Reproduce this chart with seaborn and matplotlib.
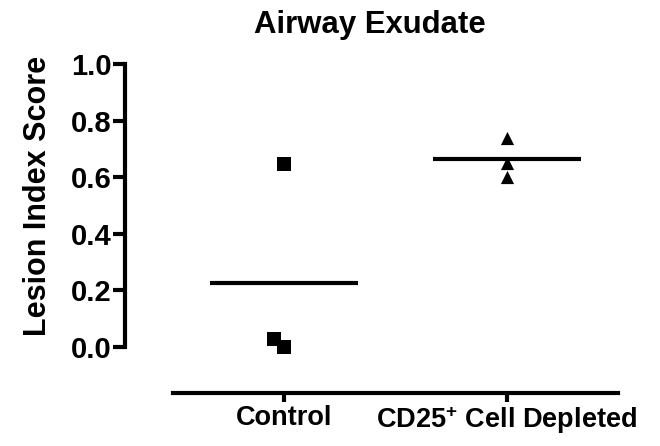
import matplotlib
matplotlib.use("Agg")
import matplotlib.pyplot as plt
import seaborn as sns
import numpy as np
import pandas as pd

# Data
categories = ["Control", "CD25$^{+}$ Cell Depleted"]
control_scores = [0.645, 0.0, 0.03]
cd25_scores = [0.74, 0.65, 0.60]
y_ticks = [0.0, 0.2, 0.4, 0.6, 0.8, 1.0]
title = "Airway Exudate"
y_label = "Lesion Index Score"

df = pd.DataFrame({
    "group": [categories[0]] * len(control_scores) + [categories[1]] * len(cd25_scores),
    "score": control_scores + cd25_scores,
})

sns.set_style("ticks")
plt.rcParams["font.family"] = ["Liberation Sans", "DejaVu Sans"]
plt.rcParams["font.weight"] = "bold"
plt.rcParams["mathtext.default"] = "regular"
for key in ["text.color", "axes.labelcolor", "xtick.color", "ytick.color", "axes.edgecolor"]:
    plt.rcParams[key] = "black"

fig = plt.figure(figsize=(6.6, 4.46), dpi=100)
ax = fig.add_axes([173 / 660, 1 - 347 / 446, (618 - 173) / 660, (347 - 64) / 446])

markers = ["s", "^"]
sizes = [9.5, 9.5]
for i, cat in enumerate(categories):
    sub = df[df["group"] == cat]
    sns.swarmplot(data=sub, x="group", y="score", order=categories, marker=markers[i],
                  size=sizes[i], color="black", linewidth=0, ax=ax)

for coll in ax.collections:
    coll.set_clip_on(False)

means = df.groupby("group", sort=False)["score"].mean()
for i, cat in enumerate(categories):
    ax.hlines(means[cat], i - 0.333, i + 0.333, color="black", linewidth=3)

ax.set_xlim(-0.5, 1.5)
ax.set_ylim(0, 1)
ax.set_yticks(y_ticks)
ax.set_yticklabels([f"{v:.1f}" for v in y_ticks])
ax.set_xlabel("")
ax.set_ylabel("")

for side in ["top", "right"]:
    ax.spines[side].set_visible(False)
ax.spines["left"].set_position(("outward", 34.5))
ax.spines["bottom"].set_position(("outward", 33))
for side in ["left", "bottom"]:
    ax.spines[side].set_linewidth(3)
    ax.spines[side].set_color("black")

ax.tick_params(axis="y", direction="out", length=8.5, width=3, labelsize=21, pad=1,
               color="black", labelcolor="black")
ax.tick_params(axis="x", direction="out", length=6.5, width=3, labelsize=19.5, pad=2,
               color="black", labelcolor="black")
for lab in ax.get_xticklabels() + ax.get_yticklabels():
    lab.set_fontweight("bold")

fig.text(370 / 660, 1 - 25 / 446, title, ha="center", va="center", fontsize=22.4,
         fontweight="bold", color="black")
fig.text(38 / 660, 1 - 196 / 446, y_label, ha="center", va="center", rotation=90,
         fontsize=22, fontweight="bold", color="black")

fig.savefig("out.png", dpi=100, facecolor="white")
